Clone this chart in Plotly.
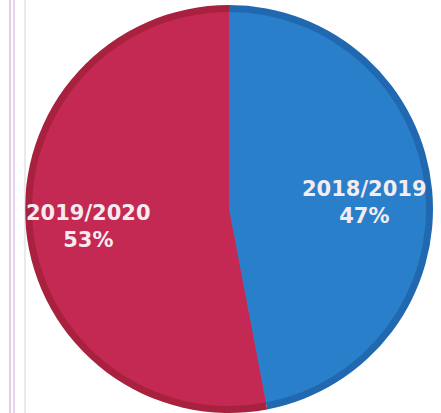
import plotly.graph_objects as go

labels = ["2018/2019", "2019/2020"]
values = [47, 53]
pct_text = ["47%", "53%"]

fill_colors = ["#2A7FCB", "#C32952"]
rim_colors = ["#2069B0", "#A8223F"]

W, H = 441, 413
cx, cy = 229, 209  # pixels from left / top
R_out, R_in = 204, 197

def dom(r):
    return dict(x=[(cx - r) / W, (cx + r) / W],
                y=[max(0, (H - cy - r) / H), min(1, (H - cy + r) / H)])

fig = go.Figure()
fig.add_trace(go.Pie(labels=labels, values=values, sort=False, direction="clockwise",
                     rotation=0, marker=dict(colors=rim_colors, line=dict(width=0)),
                     textinfo="none", hoverinfo="skip", domain=dom(R_out)))
fig.add_trace(go.Pie(labels=labels, values=values, sort=False, direction="clockwise",
                     rotation=0, marker=dict(colors=fill_colors, line=dict(width=0)),
                     textinfo="none", hoverinfo="skip", domain=dom(R_in)))

label_pos = [(364, 202), (88, 226)]
for lab, pt, (px, py) in zip(labels, pct_text, label_pos):
    fig.add_annotation(x=px / W, y=1 - py / H, xref="paper", yref="paper",
                       text=f"<b>{lab}<br>{pt}</b>", showarrow=False,
                       font=dict(family="DejaVu Sans", size=21, color="#F4ECF0"),
                       align="center", xanchor="center", yanchor="middle")

for x0, col in [(10, "rgba(200,160,220,0.7)"), (14, "rgba(200,160,220,0.6)"), (25, "rgba(200,200,210,0.5)")]:
    fig.add_shape(type="line", xref="paper", yref="paper", x0=x0 / W, x1=x0 / W, y0=0, y1=1,
                  line=dict(color=col, width=1.5))

fig.update_layout(width=W, height=H, margin=dict(l=0, r=0, t=0, b=0),
                  paper_bgcolor="white", plot_bgcolor="white", showlegend=False)
fig.write_html("out.html")
